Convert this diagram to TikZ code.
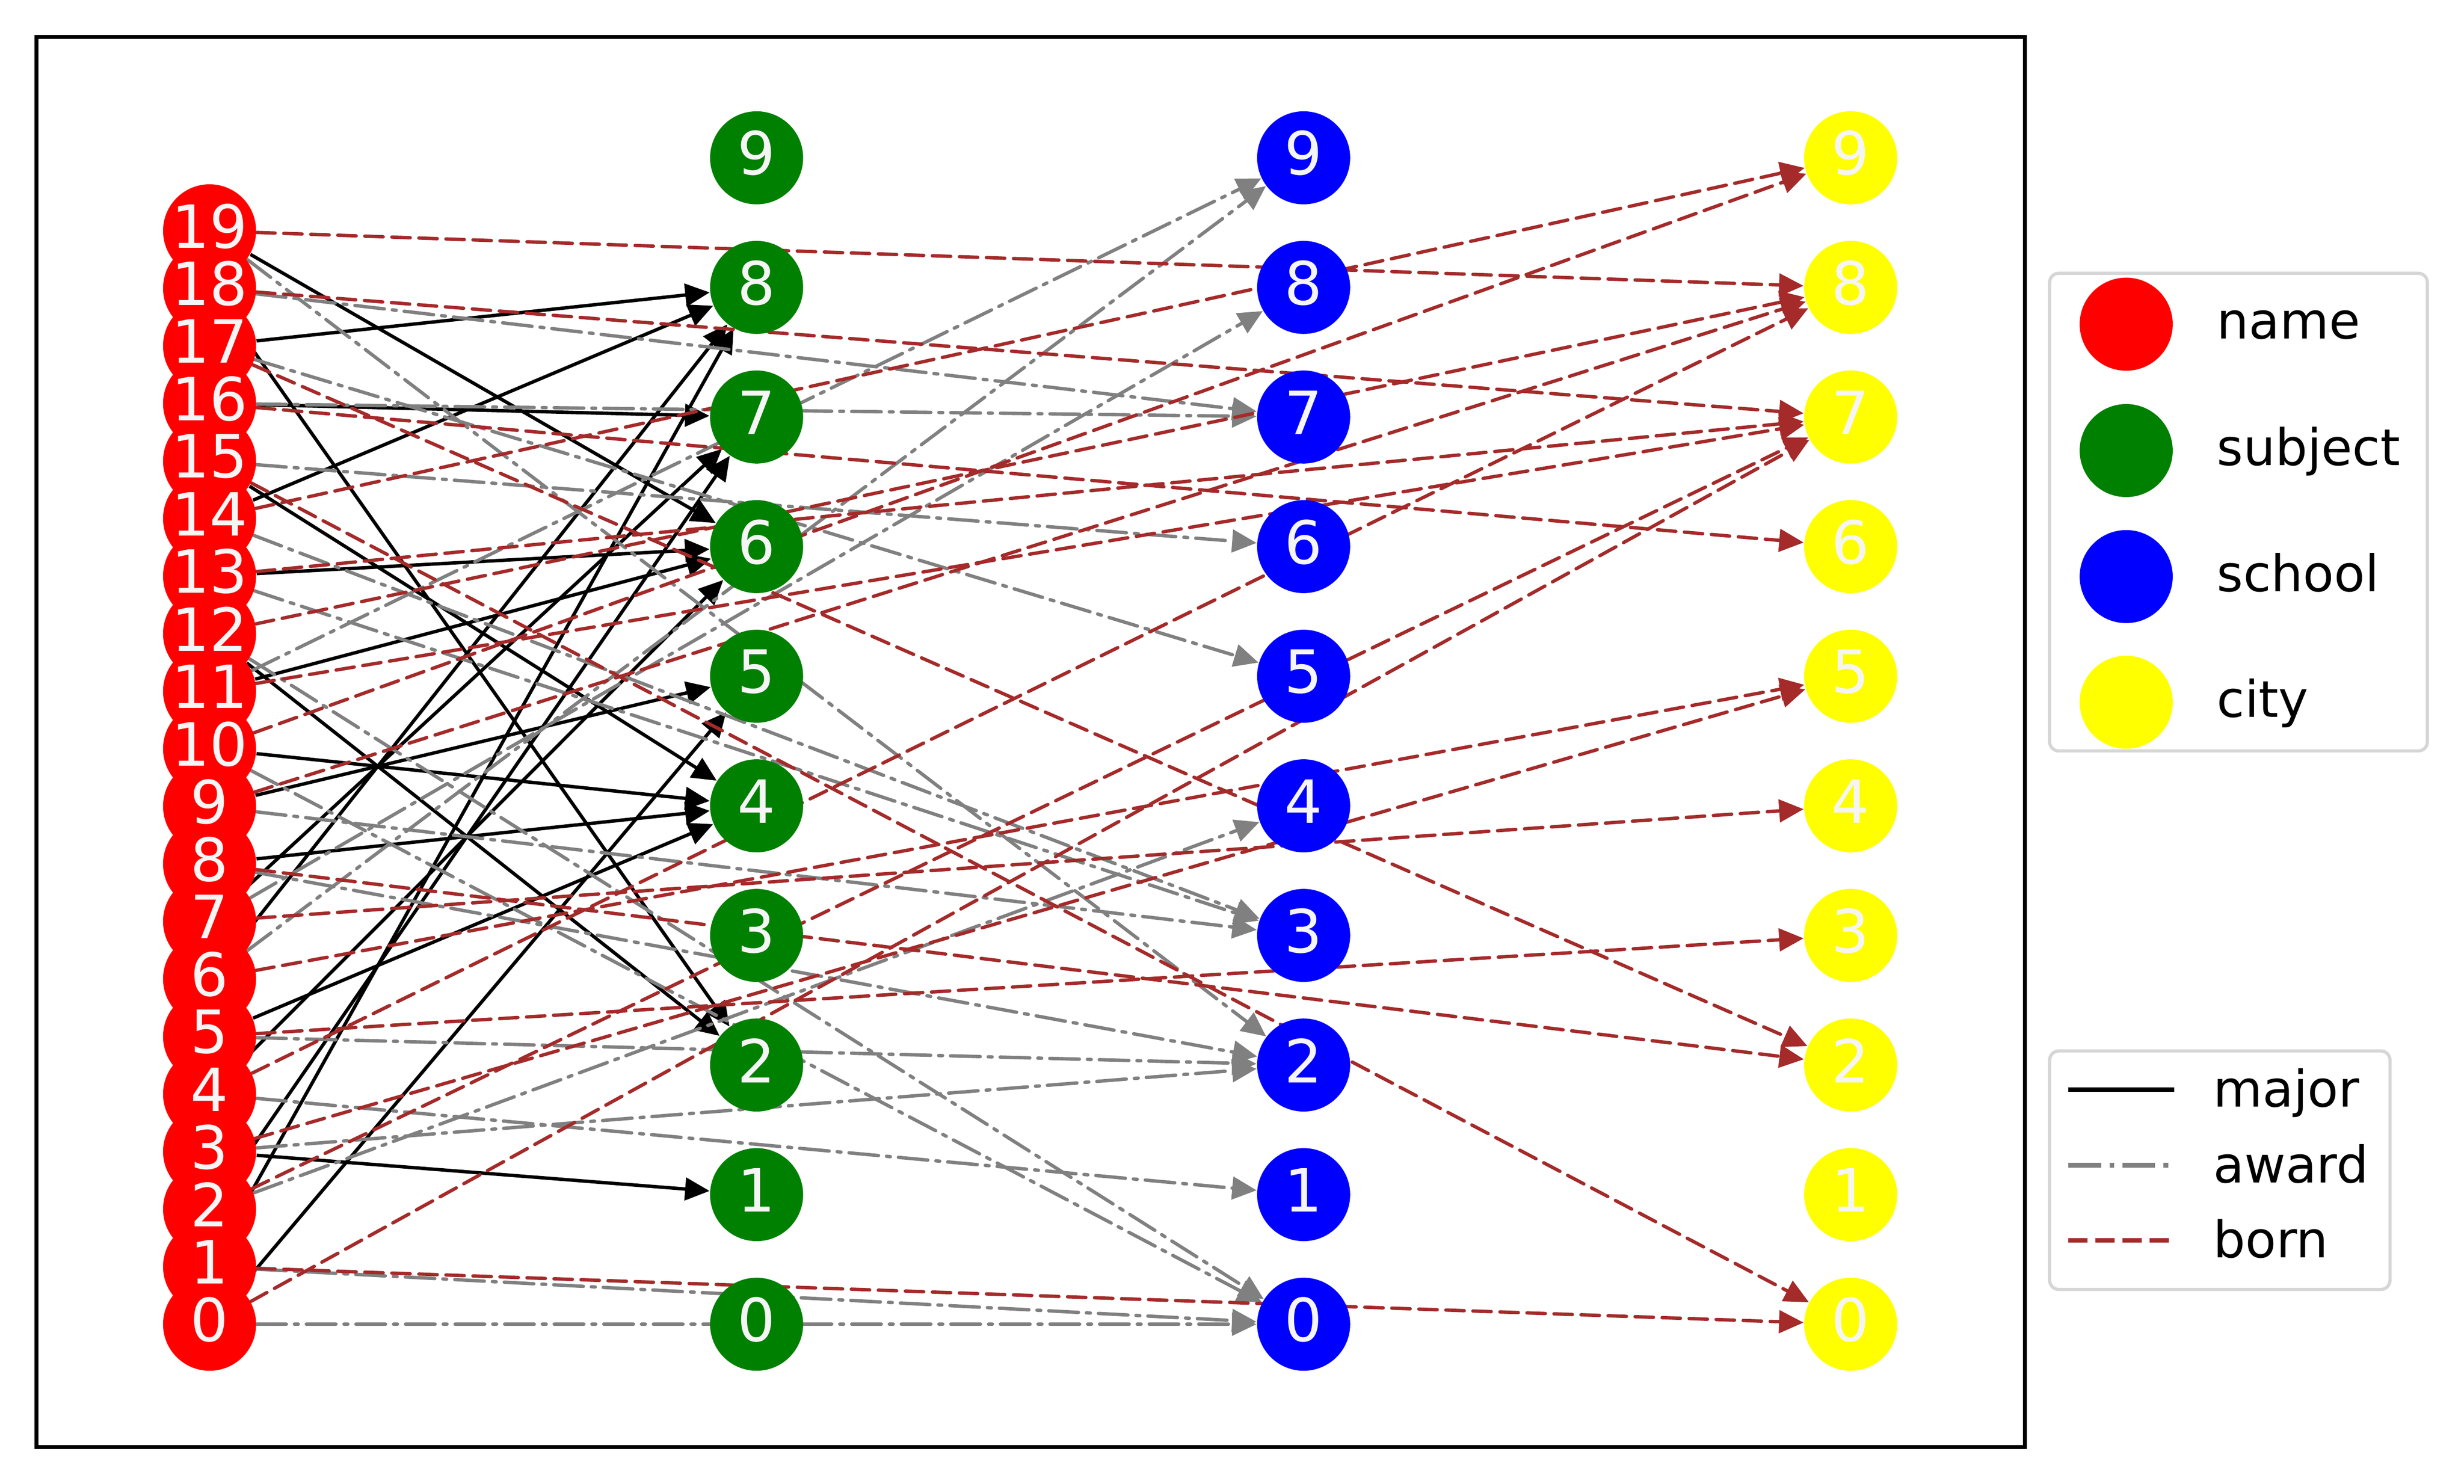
\documentclass[tikz,border=0pt]{standalone}
\usepackage{fontspec}
\setmainfont{DejaVu Sans}
\usetikzlibrary{arrows.meta,backgrounds}
\definecolor{bornbrown}{HTML}{A52A2A}
\definecolor{awardgray}{HTML}{808080}
\definecolor{subjgreen}{HTML}{008000}
\definecolor{cityyellow}{HTML}{FFFF00}
\definecolor{labelwhite}{HTML}{F5F5F5}
\definecolor{legendedge}{HTML}{D6D6D6}
\tikzset{
  vertex/.style={circle, minimum size=1.016cm, inner sep=0pt},
  namenode/.style={vertex, fill=red},
  subjnode/.style={vertex, fill=subjgreen},
  schoolnode/.style={vertex, fill=blue},
  citynode/.style={vertex, fill=cityyellow},
  numlabel/.style={text=labelwhite, inner sep=0pt, yshift=0.05cm, font=\fontsize{18.5}{18.5}\selectfont},
  majorline/.style={black, line width=1.05pt},
  awardline/.style={awardgray, line width=1.05pt, line cap=round, dash pattern=on 9.2pt off 2.5pt on 1.2pt off 2.5pt},
  bornline/.style={bornbrown, line width=1.05pt, line cap=round, dash pattern=on 5.7pt off 2.7pt},
  tip/.style={-{Triangle[length=7.6pt,width=7pt]}},
  legmajor/.style={black, line width=1.4pt},
  legaward/.style={awardgray, line width=1.4pt, dash pattern=on 10.2pt off 2.6pt on 1.5pt off 2.5pt},
  legborn/.style={bornbrown, line width=1.4pt, dash pattern=on 6pt off 2.4pt},
  legendbox/.style={draw=legendedge, line width=1pt, rounded corners=0.1cm},
  legendtext/.style={anchor=base west, inner sep=0pt, font=\fontsize{15.7}{15.7}\selectfont},
}
\begin{document}
\begin{tikzpicture}[x=0.4cm,y=0.4cm]
  \useasboundingbox (0,0) rectangle (67.25,40.5);
  \draw [line width=1.25pt] (1.00,1.00) rectangle (55.27,39.49);

  % the four columns
  \foreach \k in {0,...,19}
    \node [namenode] (name\k) at (5.72, 4.35+1.571*\k) {};
  \foreach \j in {0,...,9} {
    \node [subjnode] (subj\j) at (20.65, 4.35+3.538*\j) {};
    \node [schoolnode] (school\j) at (35.58, 4.35+3.538*\j) {};
    \node [citynode] (city\j) at (50.51, 4.35+3.538*\j) {};
  }
  \foreach \k in {0,...,19}
    \node [numlabel] (namelab\k) at (name\k) {\k};
  \foreach \j in {0,...,9} {
    \node [numlabel] (subjlab\j) at (subj\j) {\j};
    \node [numlabel] (schoollab\j) at (school\j) {\j};
    \node [numlabel] (citylab\j) at (city\j) {\j};
  }

  % edges behind the nodes
  \begin{scope}[on background layer]
    \foreach \a/\b in {0/5,1/8,2/7,3/1,4/6,5/4,6/8,7/7,8/4,9/5,10/4,11/6,12/2,13/6,14/8,15/4,16/7,17/8,18/2,19/6}
      \draw [majorline, tip] (name\a) -- (subj\b);
    \foreach \a/\b in {0/0,1/0,2/4,3/2,4/1,5/2,6/9,7/8,8/2,9/3,10/0,11/9,12/0,13/3,14/3,15/6,16/7,17/5,18/7,19/2}
      \draw [awardline, tip] (name\a) -- (school\b);
    \foreach \a/\b in {0/7,1/0,2/7,3/5,4/8,5/3,6/5,7/4,8/2,9/8,10/9,11/7,12/8,13/7,14/9,15/0,16/6,17/2,18/7,19/8}
      \draw [bornline, tip] (name\a) -- (city\b);
  \end{scope}

  % legends
  \draw [legendbox] (55.94,20.00) rectangle (66.25,33.04);
  \foreach \y/\sty/\txt in {31.65/namenode/name, 28.20/subjnode/subject, 24.76/schoolnode/school, 21.33/citynode/city} {
    \node [\sty] (leg\txt) at (58.03,\y) {};
    \node [legendtext] (legtext\txt) at (60.49,\y-0.40) {\txt};
  }
  \draw [legendbox] (55.94,5.30) rectangle (65.23,11.81);
  \foreach \y/\sty/\txt in {10.76/legmajor/major, 8.69/legaward/award, 6.64/legborn/born} {
    \coordinate (\txt A) at (56.45,\y);
    \coordinate (\txt B) at (59.34,\y);
    \draw [\sty] (\txt A) -- (\txt B);
    \node [legendtext] (legtext\txt) at (60.39,\y-0.47) {\txt};
  }
\end{tikzpicture}
\end{document}
